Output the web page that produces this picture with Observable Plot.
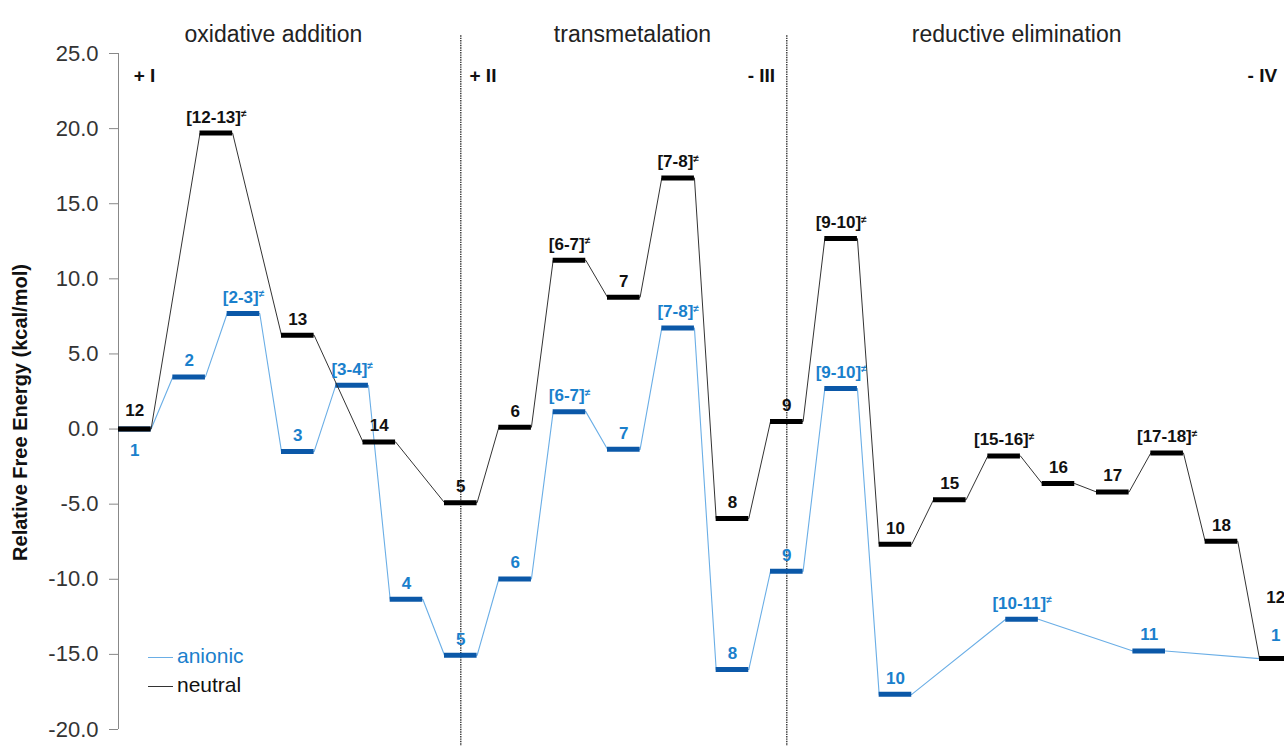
<!DOCTYPE html>
<html>
<head>
<meta charset="utf-8">
<script src="https://cdn.jsdelivr.net/npm/d3@7"></script>
<script src="https://cdn.jsdelivr.net/npm/@observablehq/plot@0.6"></script>
<style>
  body { margin: 0; background: #fff; font-family: "Liberation Sans", Arial, sans-serif; }
  #wrap { position: relative; width: 1284px; height: 746px; overflow: hidden; }
  #wrap svg { overflow: hidden; }
  .leg { position: absolute; left: 148px; font-size: 21px; height: 29px; line-height: 29px; white-space: nowrap; }
  .leg .sw { display: inline-block; width: 25px; height: 0; vertical-align: middle; margin-right: 4px; border-top-width: 1.5px; border-top-style: solid; }
</style>
</head>
<body>
<div id="wrap"></div>
<script>
// ---- data ----
const neutralLabels   = ["12","[12-13]≠","13","14","5","6","[6-7]≠","7","[7-8]≠","8","9","[9-10]≠","10","15","[15-16]≠","16","17","[17-18]≠","18","12"];
const neutralSlots    = [0, 1.5, 3, 4.5, 6, 7, 8, 9, 10, 11, 12, 13, 14, 15, 16, 17, 18, 19, 20, 21];
const neutralEnergies = [0.0, 19.7, 6.25, -0.86, -4.9, 0.12, 11.24, 8.77, 16.72, -5.96, 0.5, 12.68, -7.67, -4.71, -1.79, -3.63, -4.19, -1.59, -7.47, -15.28];

const anionicLabels   = ["1","2","[2-3]≠","3","[3-4]≠","4","5","6","[6-7]≠","7","[7-8]≠","8","9","[9-10]≠","10","[10-11]≠","11","1"];
const anionicSlots    = [0, 1, 2, 3, 4, 5, 6, 7, 8, 9, 10, 11, 12, 13, 14, 16.33, 18.67, 21];
const anionicEnergies = [0.0, 3.47, 7.69, -1.5, 2.92, -11.33, -15.06, -9.98, 1.16, -1.35, 6.73, -16.01, -9.47, 2.7, -17.66, -12.66, -14.77, -15.28];

const seriesNames  = ["anionic", "neutral"];
const phaseNames   = ["oxidative addition", "transmetalation", "reductive elimination"];
const phaseCenters = [2.85, 9.46, 16.53];
const stepNames    = ["+ I", "+ II", "- III", "- IV"];
const stepSlots    = [0.28, 6.46, 11.58, 20.78];
const dividerSlots = [6.3, 12.3];
const yTicks       = [-20, -15, -10, -5, 0, 5, 10, 15, 20, 25];
const yLabel       = "Relative Free Energy (kcal/mol)";

// ---- styles ----
const colors = {
  anionic: { line: "#6aaee6", bar: "#0b58a8", text: "#1a80cc" },
  neutral: { line: "#333333", bar: "#000000", text: "#111111" }
};
const BAR = 0.6; // bar length in slot units

function build(series, labels, slots, energies) {
  return labels.map((label, i) => ({ series, label, slot: slots[i], energy: energies[i], dy: -16 }));
}
const neutral = build("neutral", neutralLabels, neutralSlots, neutralEnergies);
const anionic = build("anionic", anionicLabels, anionicSlots, anionicEnergies);

// stacked labels where both profiles share a level
anionic.forEach((a, i) => {
  const n = neutral.find(d => d.slot === a.slot && d.energy === a.energy);
  if (n) {
    if (i === 0) { a.dy = 21; n.dy = -19; }
    else { a.dy = -23; n.dy = -61; }
  }
});

const path = arr => arr.flatMap(s => [{ slot: s.slot, energy: s.energy }, { slot: s.slot + BAR, energy: s.energy }]);

const allLabels = [...anionic, ...neutral];
const labelGroups = d3.groups(allLabels, d => d.dy);

const marks = [
  Plot.ruleX(dividerSlots, { x: d => d, y1: -21.2, y2: 26.2, stroke: "#222", strokeWidth: 1.3, strokeDasharray: "1.4,1" }),
  Plot.ruleX([0], { x: d => d, y1: -20, y2: 25, stroke: "#888", strokeWidth: 1 }),
  Plot.axisY({ ticks: yTicks, tickSize: 9, tickPadding: 11, tickFormat: d => d.toFixed(1), label: null, stroke: "#888", fill: "#333", fontSize: 22 }),
  Plot.line(path(anionic), { x: "slot", y: "energy", stroke: colors.anionic.line, strokeWidth: 1.1 }),
  Plot.ruleY(anionic, { x1: "slot", x2: d => d.slot + BAR, y: "energy", stroke: colors.anionic.bar, strokeWidth: 5, strokeLinecap: "butt" }),
  Plot.line(path(neutral), { x: "slot", y: "energy", stroke: colors.neutral.line, strokeWidth: 1 }),
  Plot.ruleY(neutral, { x1: "slot", x2: d => d.slot + BAR, y: "energy", stroke: colors.neutral.bar, strokeWidth: 5, strokeLinecap: "butt" }),
  ...labelGroups.map(([dy, group]) =>
    Plot.text(group, { x: d => d.slot + BAR / 2, y: "energy", text: "label", dy, fontWeight: "bold", fontSize: 17, fill: d => colors[d.series].text })
  ),
  Plot.text(phaseNames, { x: (d, i) => phaseCenters[i], text: d => d, frameAnchor: "top", dy: -28, fontSize: 23, fill: "#222" }),
  Plot.text(stepNames, { x: (d, i) => stepSlots[i], text: d => d, frameAnchor: "top", dy: 15, textAnchor: "start", fontWeight: "bold", fontSize: 19, fill: "#111" }),
  Plot.text([yLabel], { text: d => d, frameAnchor: "left", textAnchor: "middle", dx: -98, dy: 21, rotate: -90, fontWeight: "bold", fontSize: 20, fill: "#111" })
];

const chart = Plot.plot({
  width: 1284,
  height: 746,
  marginTop: 53,
  marginBottom: 17,
  marginLeft: 118,
  marginRight: 25,
  x: { domain: [0, 21], axis: null },
  y: { domain: [-20, 25] },
  style: { fontFamily: "'Liberation Sans', Arial, sans-serif", fontSize: "22px", color: "#333", background: "#fff", overflow: "hidden" },
  marks
});

// superscript the transition-state mark
d3.select(chart).selectAll("text").each(function () {
  const t = this.textContent;
  if (t.length > 1 && t.endsWith("≠")) {
    this.textContent = t.slice(0, -1);
    d3.select(this).append("tspan").attr("dy", "-0.55em").attr("font-size", "10px").text("≠");
  }
});

const wrap = document.getElementById("wrap");
wrap.appendChild(chart);

// legend
const legendTops = [641, 670];
seriesNames.forEach((name, i) => {
  const div = document.createElement("div");
  div.className = "leg";
  div.style.top = legendTops[i] + "px";
  const sw = document.createElement("span");
  sw.className = "sw";
  sw.style.borderTopColor = colors[name].line;
  const tx = document.createElement("span");
  tx.textContent = name;
  tx.style.color = name === "anionic" ? colors.anionic.text : "#111";
  div.appendChild(sw); div.appendChild(tx);
  wrap.appendChild(div);
});
</script>
</body>
</html>
